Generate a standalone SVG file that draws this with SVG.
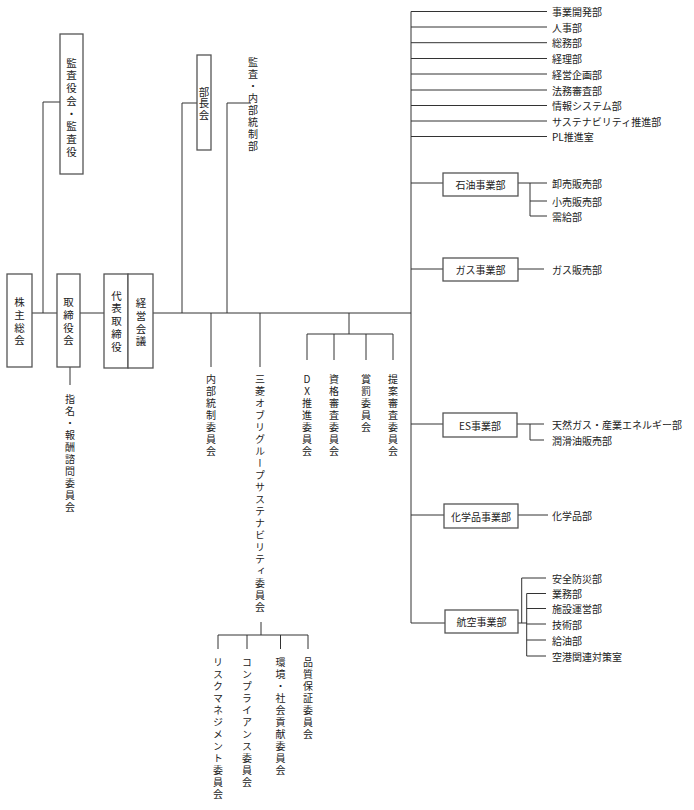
<svg xmlns="http://www.w3.org/2000/svg" width="694" height="810" viewBox="0 0 694 810">
<style>
text{font-family:"Noto Sans CJK JP","Liberation Sans",sans-serif;fill:#222;font-size:10px}
.vt{writing-mode:vertical-rl;text-orientation:upright;letter-spacing:2px}
.vb{writing-mode:vertical-rl;text-orientation:upright;font-size:10.5px;letter-spacing:2.2px}
.ht{dominant-baseline:central}
.bt{dominant-baseline:central;text-anchor:middle}
.box{fill:#fff;stroke:#555;stroke-width:1.3}
.ln{fill:none;stroke:#333;stroke-width:1}
</style>
<rect width="694" height="810" fill="#fff"/>
<g id="connectors" class="ln">
<path d="M32,313H57M80,313H104M153,313H411"/>
<path d="M43,313V102H60"/>
<path d="M70,367V385"/>
<path d="M182,313V103H197"/>
<path d="M227,313V103H251"/>
<path d="M211,313V367M260,313V367"/>
<path d="M349,313V334M307,334H393M307,334V360M334,334V360M366,334V360M393,334V360"/>
<path d="M261,622V635M218,635H308M218,635V649M247,635V649M280.5,635V649M308,635V649"/>
<path d="M411,11.5V623"/>
<path d="M411,11.5H547M411,27H547M411,42.7H547M411,58.5H547M411,74H547M411,90H547M411,105.5H547M411,121H547M411,136.5H547"/>
<path d="M411,183H443M518,183H547M530,183V216M530,201H547M530,216H547"/>
<path d="M411,269H443M518,269H544"/>
<path d="M411,424H443M517,424H544M530,424V440H544"/>
<path d="M411,515H444M518,515H548"/>
<path d="M411,623H445M518,623H527M521.7,623V578H546M526.7,593.5V656M526.7,593.5H546M526.7,608.5H546M526.7,624H546M526.7,640H546M526.7,656H546"/>
</g>
<g id="n-kabunushi"><rect class="box" x="7" y="274" width="25" height="93"/><text class="vb" x="19.5" y="297">株主総会</text></g>
<g id="n-torishimariyakukai"><rect class="box" x="57" y="274" width="23" height="93"/><text class="vb" x="68.5" y="297">取締役会</text></g>
<g id="n-kansayaku"><rect class="box" x="60" y="34" width="23" height="140"/><text class="vb" x="71.5" y="57.5">監査役会・監査役</text></g>
<g id="n-daihyo"><rect class="box" x="104" y="274" width="24" height="94"/><text class="vb" x="116.5" y="290.5">代表取締役</text></g>
<g id="n-keiei"><rect class="box" x="128" y="274" width="25" height="94"/><text class="vb" x="141" y="298">経営会議</text></g>
<g id="n-buchokai"><rect class="box" x="197" y="55" width="14" height="95"/><text class="vb" x="204" y="86.5" style="letter-spacing:1.2px">部長会</text></g>
<g id="n-kansanaibu"><text class="vt" x="253" y="57.5">監査・内部統制部</text></g>
<g id="n-shimei"><text class="vt" x="70" y="394">指名・報酬諮問委員会</text></g>
<g id="n-naibutosei"><text class="vt" x="211" y="374">内部統制委員会</text></g>
<g id="n-mitsuuroko"><text class="vt" x="260" y="374">三菱オブリグループサステナビリティ委員会</text></g>
<g id="n-dx"><text class="vt" x="307" y="374">DX推進委員会</text></g>
<g id="n-shikaku"><text class="vt" x="334" y="374">資格審査委員会</text></g>
<g id="n-shobatsu"><text class="vt" x="366" y="374">賞罰委員会</text></g>
<g id="n-teian"><text class="vt" x="393" y="374">提案審査委員会</text></g>
<g id="n-risk"><text class="vt" x="218" y="657">リスクマネジメント委員会</text></g>
<g id="n-compliance"><text class="vt" x="247" y="657">コンプライアンス委員会</text></g>
<g id="n-kankyo"><text class="vt" x="280.5" y="657">環境・社会貢献委員会</text></g>
<g id="n-hinshitsu"><text class="vt" x="308" y="657">品質保証委員会</text></g>
<g id="n-staff">
<text class="ht" x="552" y="11.5">事業開発部</text>
<text class="ht" x="552" y="27">人事部</text>
<text class="ht" x="552" y="42.7">総務部</text>
<text class="ht" x="552" y="58.5">経理部</text>
<text class="ht" x="552" y="74">経営企画部</text>
<text class="ht" x="552" y="90">法務審査部</text>
<text class="ht" x="552" y="105.5">情報システム部</text>
<text class="ht" x="552" y="121">サステナビリティ推進部</text>
<text class="ht" x="552" y="136.5">PL推進室</text>
</g>
<g id="n-sekiyu"><rect class="box" x="443" y="173" width="75" height="23"/><text class="bt" x="480.5" y="184.5">石油事業部</text>
<text class="ht" x="552" y="183">卸売販売部</text><text class="ht" x="552" y="201">小売販売部</text><text class="ht" x="552" y="216">需給部</text></g>
<g id="n-gas"><rect class="box" x="443" y="258" width="75" height="23"/><text class="bt" x="480.5" y="269.5">ガス事業部</text>
<text class="ht" x="552" y="269">ガス販売部</text></g>
<g id="n-es"><rect class="box" x="443" y="413" width="74" height="24"/><text class="bt" x="480" y="425">ES事業部</text>
<text class="ht" x="552" y="424">天然ガス・産業エネルギー部</text><text class="ht" x="552" y="440">潤滑油販売部</text></g>
<g id="n-kagaku"><rect class="box" x="444" y="504" width="74" height="24"/><text class="bt" x="481" y="516">化学品事業部</text>
<text class="ht" x="552" y="515">化学品部</text></g>
<g id="n-koku"><rect class="box" x="445" y="610" width="73" height="23"/><text class="bt" x="481.5" y="621.5">航空事業部</text>
<text class="ht" x="552" y="578">安全防災部</text><text class="ht" x="552" y="593.5">業務部</text><text class="ht" x="552" y="608.5">施設運営部</text><text class="ht" x="552" y="624">技術部</text><text class="ht" x="552" y="640">給油部</text><text class="ht" x="552" y="656">空港関連対策室</text></g>
</svg>
